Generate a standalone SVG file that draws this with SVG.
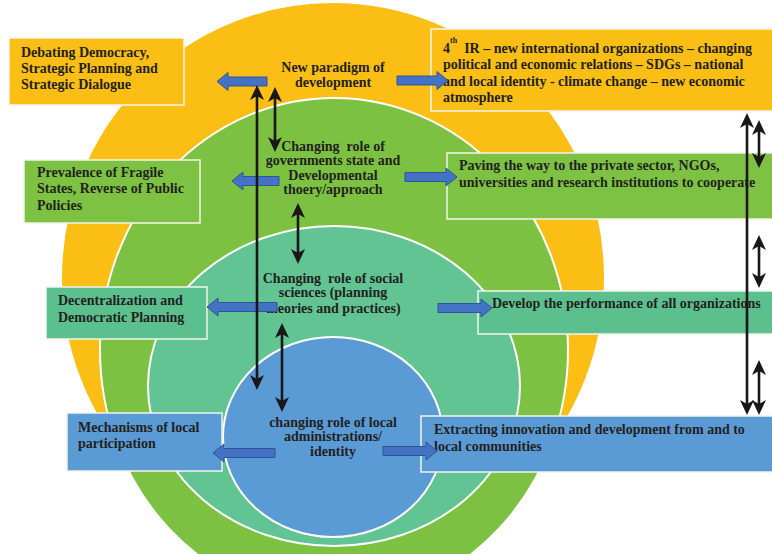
<svg xmlns="http://www.w3.org/2000/svg" width="772" height="554" viewBox="0 0 772 554">
<defs>
<style>
text{font-family:"Liberation Serif","Times New Roman",serif;font-weight:bold;font-size:14px;fill:#231F20}
.c{text-anchor:middle}
.ring{stroke:#FFFFFF;stroke-width:2}
.box{stroke:#F4F4EC;stroke-width:1.5}
.blk{fill:#4472C4;stroke:#2F5597;stroke-width:1}
.ln{stroke:#1A1718;stroke-width:2.6;fill:none;marker-start:url(#ah);marker-end:url(#ah)}
</style>
<marker id="ah" markerUnits="userSpaceOnUse" markerWidth="16" markerHeight="15" refX="4" refY="7" orient="auto-start-reverse" viewBox="0 0 16 14">
<path d="M0,0 L15,7 L0,14 L4,7 Z" fill="#1A1718"/>
</marker>
</defs>
<rect width="772" height="554" fill="#FFFFFF"/>
<g id="rings">
<ellipse class="ring" cx="333" cy="278" rx="272" ry="276" fill="#FBBE14"/>
<ellipse class="ring" cx="334" cy="350" rx="234" ry="252" fill="#7DC142"/>
<ellipse class="ring" cx="334" cy="386" rx="186" ry="160" fill="#62C393"/>
<ellipse class="ring" cx="333" cy="437" rx="110" ry="100" fill="#5B9BD5"/>
</g>
<g id="node-paradigm">
<text class="c" x="333" y="72">New paradigm of</text>
<text class="c" x="333" y="87">development</text>
</g>
<g id="node-governments">
<text class="c" x="333" y="151" xml:space="preserve">Changing  role of</text>
<text class="c" x="333" y="165">governments state and</text>
<text class="c" x="333" y="180">Developmental</text>
<text class="c" x="333" y="194">thoery/approach</text>
</g>
<g id="node-social">
<text class="c" x="333" y="283" xml:space="preserve">Changing  role of social</text>
<text class="c" x="333" y="297">sciences (planning</text>
<text class="c" x="333" y="313">theories and practices)</text>
</g>
<g id="node-local">
<text class="c" x="333" y="427">changing role of local</text>
<text class="c" x="333" y="441">administrations/</text>
<text class="c" x="333" y="456">identity</text>
</g>
<g id="node-debating">
<rect class="box" x="9" y="38" width="175" height="67" fill="#FBBE14"/>
<text x="21" y="57">Debating Democracy,</text>
<text x="21" y="73">Strategic Planning and</text>
<text x="21" y="89">Strategic Dialogue</text>
</g>
<g id="node-4ir">
<rect class="box" x="431" y="29" width="345" height="82" fill="#FBBE14"/>
<text x="443" y="53">4<tspan dy="-10" font-size="8">th</tspan><tspan dy="10" xml:space="preserve">  IR – new international organizations – changing</tspan></text>
<text x="443" y="69">political and economic relations – SDGs – national</text>
<text x="443" y="86">and local identity - climate change – new economic</text>
<text x="443" y="102">atmosphere</text>
</g>
<g id="node-fragile">
<rect class="box" x="24" y="160" width="176" height="63" fill="#7DC242"/>
<text x="37" y="177">Prevalence of Fragile</text>
<text x="37" y="193">States, Reverse of Public</text>
<text x="37" y="210">Policies</text>
</g>
<g id="node-paving">
<rect class="box" x="447" y="153" width="329" height="66" fill="#7DC242"/>
<text x="459" y="170">Paving the way to the private sector, NGOs,</text>
<text x="459" y="187">universities and research institutions to cooperate</text>
</g>
<g id="node-decentral">
<rect class="box" x="46" y="287" width="161" height="52" fill="#5CBF8E"/>
<text x="58" y="305">Decentralization and</text>
<text x="58" y="322">Democratic Planning</text>
</g>
<g id="node-develop">
<rect class="box" x="478" y="291" width="298" height="43" fill="#5CBF8E"/>
<text x="492" y="308">Develop the performance of all organizations</text>
</g>
<g id="node-mechanisms">
<rect class="box" x="67" y="413" width="155" height="58" fill="#5B9BD5"/>
<text x="78" y="432">Mechanisms of local</text>
<text x="78" y="448">participation</text>
</g>
<g id="node-extracting">
<rect class="box" x="421" y="416" width="355" height="56" fill="#5B9BD5"/>
<text x="434" y="434">Extracting innovation and development from and to</text>
<text x="434" y="451">local communities</text>
</g>
<g id="connectors">
<path class="blk" d="M267,77 L228,77 L228,72.5 L217,81.5 L228,90.5 L228,86 L267,86 Z"/>
<path class="blk" d="M397,76 L437,76 L437,71.5 L448,80.5 L437,89.5 L437,85 L397,85 Z"/>
<path class="blk" d="M279,176.5 L243,176.5 L243,172 L232,181 L243,190 L243,185.5 L279,185.5 Z"/>
<path class="blk" d="M405,172.5 L446,172.5 L446,168 L457,177 L446,186 L446,181.5 L405,181.5 Z"/>
<path class="blk" d="M277,302.5 L218,302.5 L218,298 L207,307 L218,316 L218,311.5 L277,311.5 Z"/>
<path class="blk" d="M438,303.5 L481,303.5 L481,299 L492,308 L481,317 L481,312.5 L438,312.5 Z"/>
<path class="blk" d="M275,448.5 L224,448.5 L224,444 L213,453 L224,462 L224,457.5 L275,457.5 Z"/>
<path class="blk" d="M383,446.5 L426,446.5 L426,442 L437,451 L426,460 L426,455.5 L383,455.5 Z"/>
<path class="ln" d="M257,96 L257,379"/>
<path class="ln" d="M275,98 L275,141"/>
<path class="ln" d="M298,214 L298,253"/>
<path class="ln" d="M282,334 L282,401"/>
<path class="ln" d="M747,124 L747,404"/>
<path class="ln" d="M759,131 L759,157"/>
<path class="ln" d="M759,246 L759,277"/>
<path class="ln" d="M759,371 L759,404"/>
</g>
</svg>
